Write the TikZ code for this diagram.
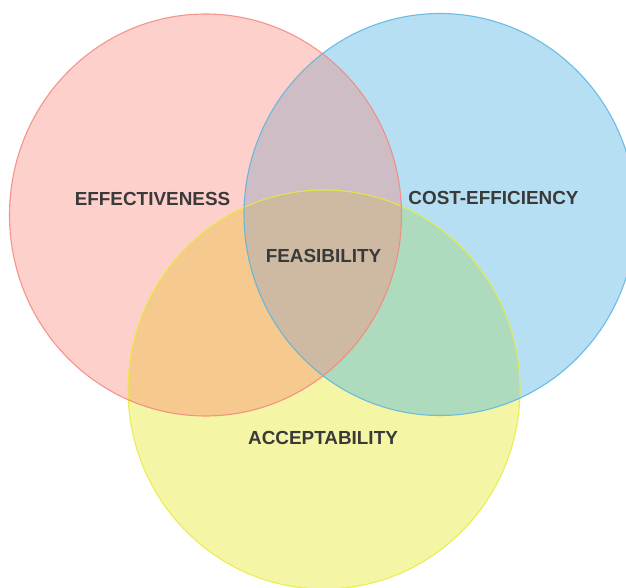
\documentclass[tikz,border=0pt]{standalone}
\usepackage{fontspec}
\setmainfont{Liberation Sans}
\definecolor{redF}{HTML}{FDD0CB}
\definecolor{blueF}{HTML}{B6DFF3}
\definecolor{yelF}{HTML}{F4F6A5}
\definecolor{rbF}{HTML}{CFBDC5}
\definecolor{ryF}{HTML}{F6C98F}
\definecolor{byF}{HTML}{AEDBBD}
\definecolor{rbyF}{HTML}{CEB9A2}
\definecolor{redS}{HTML}{F4877C}
\definecolor{blueS}{HTML}{5AB4E2}
\definecolor{yelS}{HTML}{E6ED3A}
\definecolor{txt}{HTML}{3A3A3A}
\tikzset{
  rim/.style={line width=1.1pt, draw opacity=0.85},
  lbl/.style={font=\fontsize{18.9}{20}\selectfont\bfseries, text=txt, inner sep=0pt}
}
\newcommand{\redC}{(205.5,215) ellipse [x radius=196pt, y radius=201pt]}
\newcommand{\blueC}{(440,214.5) ellipse [x radius=196pt, y radius=201pt]}
\newcommand{\yelC}{(324,389.5) ellipse [x radius=196pt, y radius=199.5pt]}
\begin{document}
\begin{tikzpicture}[x=1pt,y=-1pt]
\useasboundingbox (0,0) rectangle (626,588);
\fill[white] (0,0) rectangle (626,588);
\fill[redF] \redC;
\fill[blueF] \blueC;
\fill[yelF] \yelC;
\begin{scope}
  \clip \redC;
  \fill[rbF] \blueC;
  \fill[ryF] \yelC;
\end{scope}
\begin{scope}
  \clip \blueC;
  \fill[byF] \yelC;
\end{scope}
\begin{scope}
  \clip \redC;
  \clip \blueC;
  \fill[rbyF] \yelC;
\end{scope}
\draw[rim, yelS] \yelC;
\draw[rim, blueS] \blueC;
\draw[rim, redS] \redC;
\node[lbl] (eff) at (152.5,199) {EFFECTIVENESS};
\node[lbl] (cost) at (493.5,198) {COST-EFFICIENCY};
\node[lbl] (feas) at (323.5,256) {FEASIBILITY};
\node[lbl] (acc) at (323,438) {ACCEPTABILITY};
\end{tikzpicture}
\end{document}
